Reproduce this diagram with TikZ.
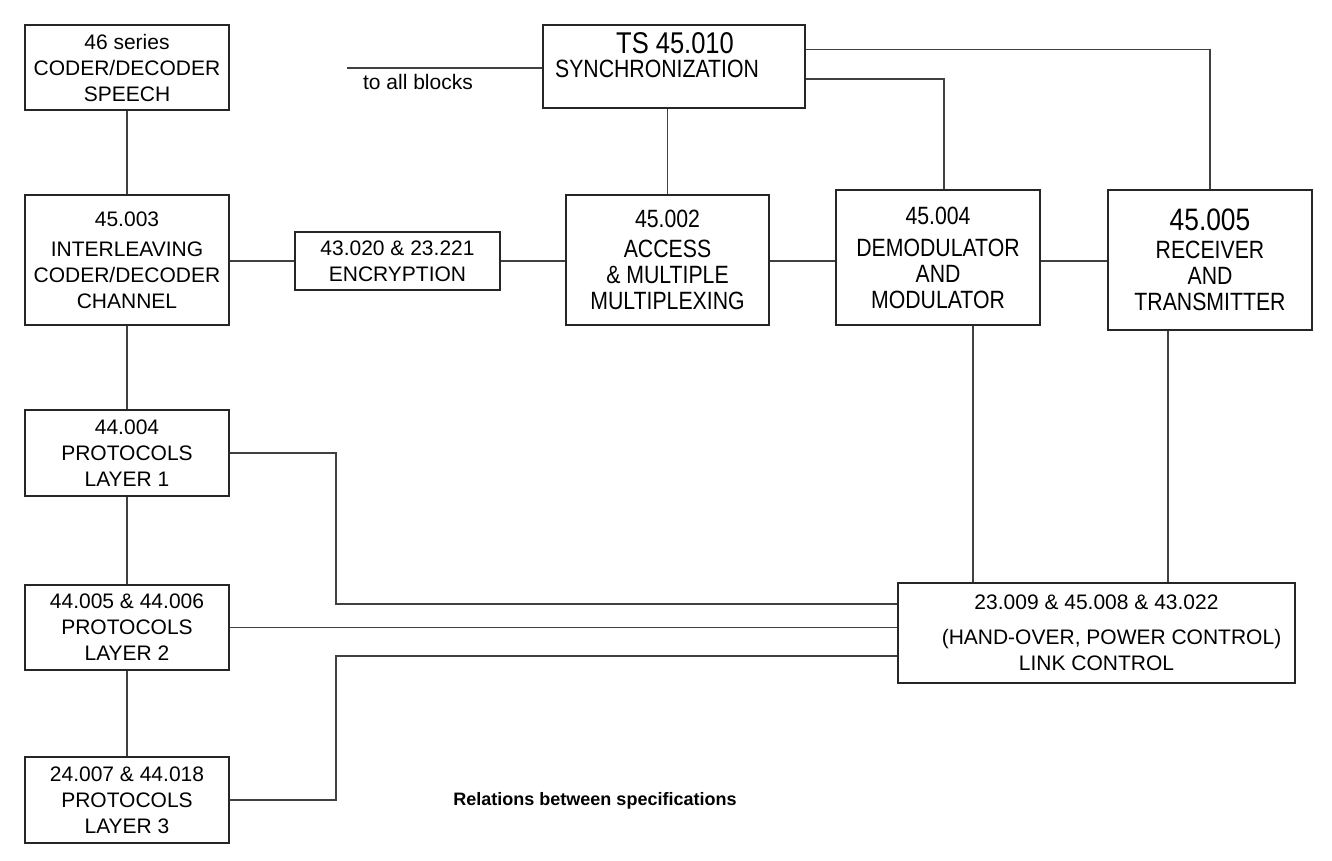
\documentclass[tikz,border=0pt]{standalone}
\usepackage{fontspec}
\setmainfont{Liberation Sans}
\newfontfamily\narrowfont[FakeStretch=0.85]{Liberation Sans}
\begin{document}
\begin{tikzpicture}[x=1pt,y=-1pt,
  box/.style={draw=black!85,line width=1.3pt,inner sep=0pt,align=center,
    font=\fontsize{21}{26}\selectfont},
  nbox/.style={box,font=\narrowfont\fontsize{25}{26}\selectfont},
  conn/.style={draw=black!75,line width=1.2pt},
  lbl/.style={inner sep=0pt,align=center,font=\fontsize{21}{26}\selectfont}]
\useasboundingbox (0,0) rectangle (1332,861);
% boxes
\node[box,minimum width=204,minimum height=85] (speech) at (127,67.5)
  {46 series\\CODER/DECODER\\SPEECH};
\node[box,minimum width=262,minimum height=83] (sync) at (674,66.5) {};
\node[lbl,font=\narrowfont\fontsize{25}{26}\selectfont] (synctxt) at (657,55)
  {\hspace*{36pt}{\fontsize{30}{30}\selectfont TS 45.010}\\[-2pt]SYNCHRONIZATION};
\node[box,minimum width=204,minimum height=130] (channel) at (127,260)
  {45.003\\[4pt]INTERLEAVING\\CODER/DECODER\\CHANNEL};
\node[box,minimum width=205,minimum height=58] (enc) at (397.5,261)
  {43.020 \& 23.221\\ENCRYPTION};
\node[nbox,minimum width=203,minimum height=130] (access) at (667.5,260)
  {45.002\\[4pt]ACCESS\\\& MULTIPLE\\MULTIPLEXING};
\node[nbox,minimum width=204,minimum height=135] (demod) at (938,257.5)
  {45.004\\[6pt]DEMODULATOR\\AND\\MODULATOR};
\node[nbox,minimum width=204,minimum height=140] (recv) at (1210,260)
  {{\fontsize{31}{30}\selectfont 45.005}\\[2pt]RECEIVER\\AND\\TRANSMITTER};
\node[box,minimum width=204,minimum height=86] (l1) at (127,453)
  {44.004\\PROTOCOLS\\LAYER 1};
\node[box,minimum width=204,minimum height=85] (l2) at (127,627.5)
  {44.005 \& 44.006\\PROTOCOLS\\LAYER 2};
\node[box,minimum width=204,minimum height=86] (l3) at (127,800)
  {24.007 \& 44.018\\PROTOCOLS\\LAYER 3};
\node[box,minimum width=397,minimum height=100] (link) at (1096.5,633)
  {23.009 \& 45.008 \& 43.022\\[9pt]\hspace*{30pt}(HAND-OVER, POWER CONTROL)\\LINK CONTROL};
% labels
\node[lbl] (toalltxt) at (418,82) {to all blocks};
\node[inner sep=0pt,font=\bfseries\fontsize{18}{20}\selectfont] (caption) at (595,801)
  {Relations between specifications};
\coordinate (toall) at (347,68);
\coordinate (jog) at (336,0);
% connectors
\draw[conn] (toall) -- (toall -| sync.west);
\draw[conn] (speech.south) -- (channel.north);
\draw[conn] (channel.south) -- (l1.north);
\draw[conn] (l1.south) -- (l2.north);
\draw[conn] (l2.south) -- (l3.north);
\draw[conn] (access.north) -- (access.north |- sync.south);
\draw[conn] ([yshift=-25]sync.north east) -| (recv.north);
\draw[conn,line width=2pt] ([yshift=-55]sync.north east) -| ([xshift=6]demod.north);
\draw[conn] (channel.east |- enc.west) -- (enc.west);
\draw[conn] (enc.east) -- (enc.east -| access.west);
\draw[conn] (access.east |- enc.east) -- (enc.east -| demod.west);
\draw[conn] (demod.east |- enc.east) -- (enc.east -| recv.west);
\draw[conn] ([xshift=35]demod.south) -- ([xshift=35]demod.south |- link.north);
\draw[conn] ([xshift=-42]recv.south) -- ([xshift=-42]recv.south |- link.north);
\draw[conn] (l1.east) -- (l1.east -| jog) |- ([yshift=29]link.west);
\draw[conn] (l2.east) -- (l2.east -| link.west);
\draw[conn] (l3.east) -- (l3.east -| jog) |- ([yshift=-23]link.west);
\end{tikzpicture}
\end{document}
